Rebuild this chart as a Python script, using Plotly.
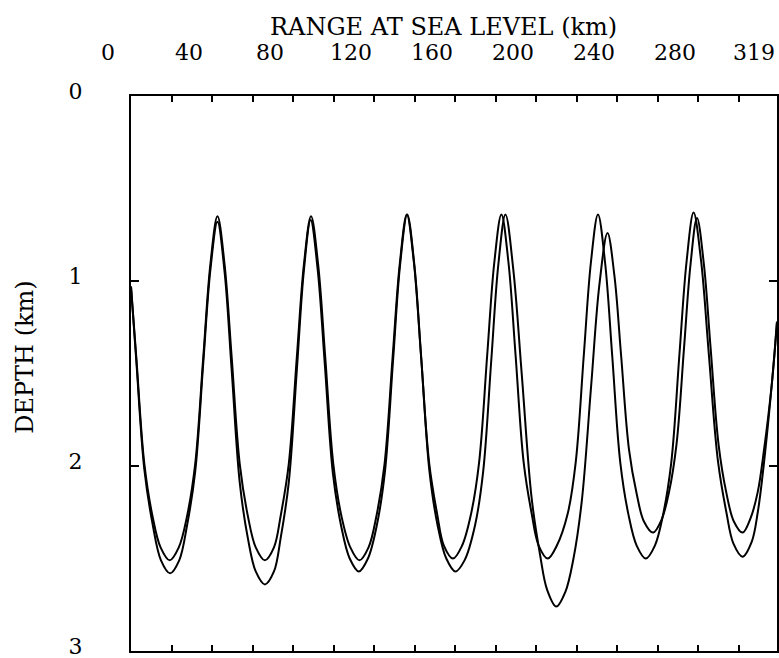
import plotly.graph_objects as go

# Ray 1 (reference ray): range (km) and depth (km)
ray1_range = [0, 2.6, 6.6, 10.6, 14.6, 19.1, 23.6,
              27.7, 31.7, 35.7, 39.2, 42.7,
              46.2, 49.7, 53.7, 57.7, 61.6, 66.1, 70.6,
              73.9, 77.9, 81.9, 85.4, 88.9,
              92.4, 95.9, 99.9, 103.9, 108.3, 112.8, 117.3,
              121.2, 125.2, 129.2, 132.7, 136.2,
              139.7, 143.2, 147.2, 151.2, 154.5, 159.0, 163.5,
              167.9, 171.9, 175.9, 179.4, 182.9,
              186.4, 189.9, 193.9, 197.9, 201.3, 205.8, 210.3,
              215.6, 219.6, 223.6, 227.1, 230.6,
              234.1, 237.6, 241.6, 245.6, 249.7, 254.2, 258.7,
              262.8, 266.8, 270.8, 274.3, 277.8,
              281.5, 285.3, 289.8, 294.0, 297.5, 302.0, 306.5,
              309.5, 312.5, 316.5, 319.0]
ray1_depth = [1.03, 1.41, 1.99, 2.27, 2.44, 2.51, 2.44,
              2.27, 1.99, 1.41, 0.91, 0.65,
              0.91, 1.41, 1.99, 2.27, 2.44, 2.51, 2.44,
              2.27, 1.99, 1.41, 0.91, 0.65,
              0.91, 1.41, 1.99, 2.27, 2.44, 2.51, 2.44,
              2.27, 1.99, 1.41, 0.91, 0.64,
              0.90, 1.40, 1.98, 2.26, 2.43, 2.50, 2.43,
              2.26, 1.98, 1.40, 0.90, 0.64,
              0.90, 1.40, 1.98, 2.26, 2.43, 2.50, 2.43,
              2.26, 1.98, 1.40, 0.90, 0.64,
              0.90, 1.40, 1.98, 2.26, 2.43, 2.50, 2.43,
              2.26, 1.98, 1.40, 0.90, 0.63,
              0.89, 1.39, 1.97, 2.25, 2.42, 2.49, 2.41,
              2.25, 1.99, 1.55, 1.22]

# Ray 2 (perturbed ray)
ray2_range = [0, 2.6, 6.6, 10.6, 14.8, 19.3, 23.8,
              27.7, 31.7, 35.7, 39.2, 42.7,
              46.2, 49.7, 53.7, 57.7, 61.6, 66.1, 70.6,
              73.9, 77.9, 81.9, 85.4, 88.7,
              92.2, 95.7, 99.7, 103.7, 108.0, 112.5, 117.0,
              121.4, 125.4, 129.4, 132.9, 136.4,
              139.9, 143.4, 147.4, 151.4, 155.7, 160.2, 164.7,
              169.9, 173.9, 177.9, 181.4, 184.9,
              188.8, 193.0, 197.8, 202.0, 205.5, 210.0, 214.5,
              218.5, 222.6, 227.2, 231.3, 235.3,
              238.7, 242.0, 245.9, 249.7, 253.3, 257.8, 262.0,
              265.7, 269.4, 273.1, 276.3, 279.5,
              282.9, 286.2, 290.1, 293.9, 297.7, 302.0, 306.0,
              309.5, 312.5, 316.5, 319.0]
ray2_depth = [1.03, 1.43, 2.02, 2.31, 2.51, 2.58, 2.51,
              2.32, 2.03, 1.44, 0.94, 0.68,
              0.95, 1.48, 2.09, 2.39, 2.57, 2.64, 2.57,
              2.39, 2.09, 1.48, 0.94, 0.67,
              0.94, 1.45, 2.04, 2.32, 2.50, 2.57, 2.50,
              2.32, 2.03, 1.43, 0.91, 0.64,
              0.91, 1.43, 2.03, 2.32, 2.50, 2.57, 2.51,
              2.32, 2.03, 1.43, 0.91, 0.64,
              0.94, 1.51, 2.17, 2.48, 2.67, 2.76, 2.68,
              2.50, 2.19, 1.57, 1.02, 0.74,
              0.97, 1.40, 1.91, 2.15, 2.30, 2.36, 2.29,
              2.14, 1.88, 1.36, 0.91, 0.66,
              0.91, 1.36, 1.88, 2.14, 2.30, 2.36, 2.28,
              2.14, 1.92, 1.55, 1.22]

x_tick_vals = [0, 40, 80, 120, 160, 200, 240, 280, 319]
x_tick_text = ["0", "40", "80", "120", "160", "200", "240", "280", "319"]
y_tick_vals = [0, 1, 2, 3]
y_tick_text = ["0", "1", "2", "3"]

FONT = "DejaVu Serif"

fig = go.Figure()
for xs, ys in [(ray1_range, ray1_depth), (ray2_range, ray2_depth)]:
    fig.add_trace(go.Scatter(
        x=xs, y=ys, mode="lines",
        line=dict(color="black", width=2, shape="spline", smoothing=1.0),
        showlegend=False, hoverinfo="skip",
    ))

fig.update_layout(
    width=779, height=658,
    margin=dict(l=131, r=2, t=96, b=7, autoexpand=False),
    paper_bgcolor="white", plot_bgcolor="white",
    font=dict(family=FONT, size=20, color="black"),
    xaxis=dict(
        side="top", range=[0, 319], automargin=False,
        tickmode="array", tickvals=x_tick_vals, ticktext=x_tick_text,
        ticks="inside", ticklen=6, tickwidth=1.5, tickcolor="black",
        minor=dict(dtick=20, tick0=0, ticks="inside", ticklen=6,
                   tickwidth=1.5, tickcolor="black"),
        showline=True, linecolor="black", linewidth=2, mirror="ticks",
        showgrid=False, zeroline=False,
        ticklabelstandoff=25, ticklabelshift=-23, ticklabeloverflow="allow",
        tickfont=dict(family=FONT, size=22),
    ),
    yaxis=dict(
        range=[3, 0], automargin=False,
        tickmode="array", tickvals=y_tick_vals, ticktext=y_tick_text,
        ticks="inside", ticklen=8, tickwidth=1.5, tickcolor="black",
        showline=True, linecolor="black", linewidth=2, mirror="ticks",
        showgrid=False, zeroline=False,
        ticklabelstandoff=42, ticklabelshift=5, ticklabeloverflow="allow",
        tickfont=dict(family=FONT, size=22),
    ),
    annotations=[
        dict(text="RANGE AT SEA LEVEL (km)", xref="paper", yref="paper",
             x=0.483, y=1.0, yshift=69, showarrow=False,
             xanchor="center", yanchor="middle",
             font=dict(family=FONT, size=24, color="black")),
        dict(text="DEPTH (km)", xref="paper", yref="paper",
             x=0, xshift=-106, y=0.53, showarrow=False, textangle=-90,
             xanchor="center", yanchor="middle",
             font=dict(family=FONT, size=24, color="black")),
    ],
)

fig.write_html(
    "out.html",
    config={"displayModeBar": False},
    post_script="document.body.style.margin='0';document.body.style.overflow='hidden';",
)
